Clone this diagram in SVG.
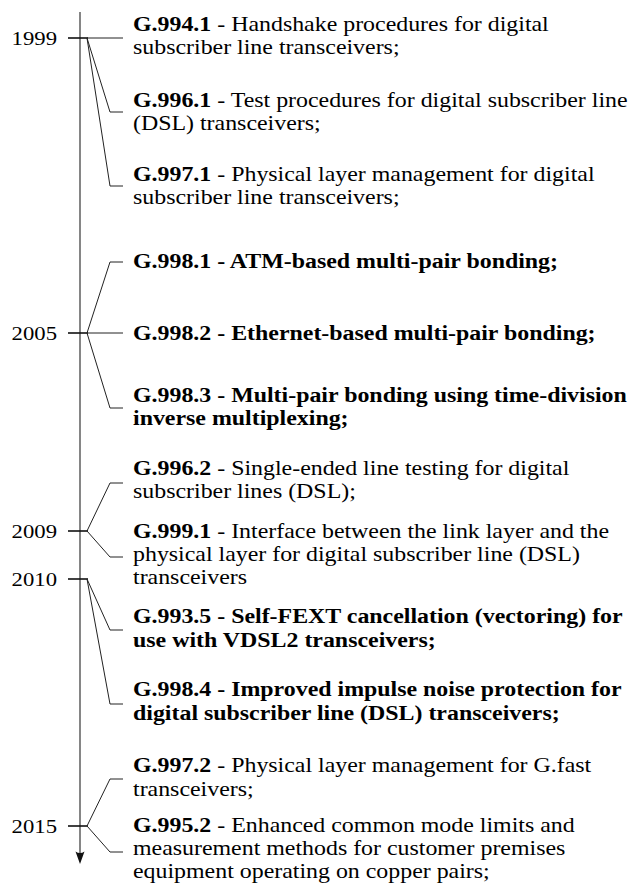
<svg xmlns="http://www.w3.org/2000/svg" width="636" height="888" viewBox="0 0 636 888">
  <style>
    text { font-family: "Liberation Serif", "Times New Roman", serif; fill: #000; }
    .item { font-size: 20px; }
    .year { font-size: 19px; text-anchor: end; }
    .b { font-weight: bold; }
    .axis { stroke: #222; stroke-width: 1.1; fill: none; }
    .tick { stroke: #111; stroke-width: 1.6; fill: none; }
    .branch { stroke: #222; stroke-width: 1; fill: none; }
  </style>

  <!-- time axis with ticks and branches -->
  <g id="connectors">
    <line class="axis" x1="80" y1="12" x2="80" y2="856"/>
    <path d="M80,864 L75.5,851.5 Q80,854.5 84.5,851.5 Z" fill="#111"/>

    <line class="tick" x1="68" y1="38" x2="88" y2="38"/>
    <line class="tick" x1="68" y1="333" x2="88" y2="333"/>
    <line class="tick" x1="68" y1="531" x2="88" y2="531"/>
    <line class="tick" x1="68" y1="579" x2="88" y2="579"/>
    <line class="tick" x1="68" y1="826" x2="88" y2="826"/>

    <!-- 1999 -->
    <polyline class="branch" points="87,38 123,38"/>
    <polyline class="branch" points="87,38 110,112 123,112"/>
    <polyline class="branch" points="87,38 110,186 123,186"/>
    <!-- 2005 -->
    <polyline class="branch" points="87,333 110,262 123,262"/>
    <polyline class="branch" points="87,333 123,333"/>
    <polyline class="branch" points="87,333 110,408 123,408"/>
    <!-- 2009 -->
    <polyline class="branch" points="87,531 110,483 123,483"/>
    <polyline class="branch" points="87,531 110,557 123,557"/>
    <!-- 2010 -->
    <polyline class="branch" points="87,579 110,630 123,630"/>
    <polyline class="branch" points="87,579 110,704 123,704"/>
    <!-- 2015 -->
    <polyline class="branch" points="87,826 110,779 123,779"/>
    <polyline class="branch" points="87,826 110,852 123,852"/>
  </g>

  <!-- year labels (slightly widened serif, right-aligned before the ticks) -->
  <g id="years" transform="translate(57 0) scale(1.195 1)">
    <text class="year" x="0" y="45">1999</text>
    <text class="year" x="0" y="340">2005</text>
    <text class="year" x="0" y="538">2009</text>
    <text class="year" x="0" y="586">2010</text>
    <text class="year" x="0" y="833">2015</text>
  </g>

  <!-- entries: text set at 20px and widened horizontally -->
  <g id="g9941" transform="translate(133 0) scale(1.195 1)">
    <text class="item" x="0" y="31"><tspan class="b">G.994.1</tspan> - Handshake procedures for digital</text>
    <text class="item" x="0" y="54">subscriber line transceivers;</text>
  </g>
  <g id="g9961" transform="translate(133 0) scale(1.195 1)">
    <text class="item" x="0" y="107"><tspan class="b">G.996.1</tspan> - Test procedures for digital subscriber line</text>
    <text class="item" x="0" y="130">(DSL) transceivers;</text>
  </g>
  <g id="g9971" transform="translate(133 0) scale(1.195 1)">
    <text class="item" x="0" y="181"><tspan class="b">G.997.1</tspan> - Physical layer management for digital</text>
    <text class="item" x="0" y="204">subscriber line transceivers;</text>
  </g>
  <g id="g9981" transform="translate(133 0) scale(1.195 1)">
    <text class="item b" x="0" y="268">G.998.1 - ATM-based multi-pair bonding;</text>
  </g>
  <g id="g9982" transform="translate(133 0) scale(1.195 1)">
    <text class="item b" x="0" y="340">G.998.2 - Ethernet-based multi-pair bonding;</text>
  </g>
  <g id="g9983" transform="translate(133 0) scale(1.195 1)">
    <text class="item b" x="0" y="402">G.998.3 - Multi-pair bonding using time-division</text>
    <text class="item b" x="0" y="425">inverse multiplexing;</text>
  </g>
  <g id="g9962" transform="translate(133 0) scale(1.195 1)">
    <text class="item" x="0" y="475"><tspan class="b">G.996.2</tspan> - Single-ended line testing for digital</text>
    <text class="item" x="0" y="498">subscriber lines (DSL);</text>
  </g>
  <g id="g9991" transform="translate(133 0) scale(1.195 1)">
    <text class="item" x="0" y="538"><tspan class="b">G.999.1</tspan> - Interface between the link layer and the</text>
    <text class="item" x="0" y="561">physical layer for digital subscriber line (DSL)</text>
    <text class="item" x="0" y="584">transceivers</text>
  </g>
  <g id="g9935" transform="translate(133 0) scale(1.195 1)">
    <text class="item b" x="0" y="623">G.993.5 - Self-FEXT cancellation (vectoring) for</text>
    <text class="item b" x="0" y="647">use with VDSL2 transceivers;</text>
  </g>
  <g id="g9984" transform="translate(133 0) scale(1.195 1)">
    <text class="item b" x="0" y="696">G.998.4 - Improved impulse noise protection for</text>
    <text class="item b" x="0" y="720">digital subscriber line (DSL) transceivers;</text>
  </g>
  <g id="g9972" transform="translate(133 0) scale(1.195 1)">
    <text class="item" x="0" y="772"><tspan class="b">G.997.2</tspan> - Physical layer management for G.fast</text>
    <text class="item" x="0" y="796">transceivers;</text>
  </g>
  <g id="g9952" transform="translate(133 0) scale(1.195 1)">
    <text class="item" x="0" y="832"><tspan class="b">G.995.2</tspan> - Enhanced common mode limits and</text>
    <text class="item" x="0" y="855">measurement methods for customer premises</text>
    <text class="item" x="0" y="878">equipment operating on copper pairs;</text>
  </g>
</svg>
